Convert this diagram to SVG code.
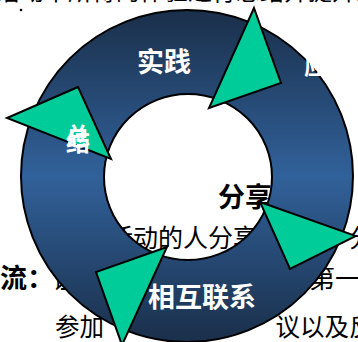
<svg xmlns="http://www.w3.org/2000/svg" width="358" height="342" viewBox="0 0 358 342">
<defs>
<linearGradient id="ringGrad" gradientUnits="userSpaceOnUse" x1="0" y1="10" x2="0" y2="342">
<stop offset="0" stop-color="#1a2f4a"/>
<stop offset="0.5" stop-color="#31619a"/>
<stop offset="1" stop-color="#1a2f4a"/>
</linearGradient>
<style>
.bg{font-family:"Noto Sans CJK SC","Noto Sans",sans-serif;fill:#000;}
.wt{font-family:"Noto Sans CJK SC","Noto Sans",sans-serif;fill:#fff;font-weight:bold;}
.tri{fill:#00cc99;stroke:#000;stroke-width:2;stroke-linejoin:miter;}
.ring{fill:url(#ringGrad);fill-rule:evenodd;stroke:#000;stroke-width:2;}
</style>
</defs>
<rect width="358" height="342" fill="#fff"/>
<g id="background-text">
<text class="bg" x="-4" y="-0.5" font-size="24">活动中所得的体验进行总结并提升为理性的一种认识</text>
<circle cx="21" cy="10" r="1.3" fill="#000"/>
<text class="bg" x="218" y="207" font-size="27" font-weight="bold">分享</text>
<text class="bg" x="108" y="247" font-size="25">活动的人分享</text>
<text class="bg" x="349" y="247" font-size="25">分</text>
<text class="bg" x="-27" y="288" font-size="27" font-weight="bold">交流：</text>
<text class="bg" x="52" y="288" font-size="26">让</text>
<text class="bg" x="309" y="288" font-size="26">第一</text>
<text class="bg" x="55" y="336" font-size="24.5">参加</text>
<text class="bg" x="275.5" y="336" font-size="24.5">议以及反</text>
</g>
<g id="ring">
<path class="ring" d="M21,176 A166,166 0 1,0 353,176 A166,166 0 1,0 21,176 Z M104,177 A84,83 0 1,0 272,177 A84,83 0 1,0 104,177 Z"/>
</g>
<g id="connectors">
<polygon id="arrow-top" class="tri" points="254,8 281,83 209,108"/>
<polygon id="arrow-left" class="tri" points="78,87 7,118 111,159"/>
<polygon id="arrow-right" class="tri" points="260,202 356,236 290,269"/>
<polygon id="arrow-bottom" class="tri" points="167,247 96,272 122,345"/>
</g>
<g id="node-shijian">
<text class="wt" x="164" y="72" font-size="27" text-anchor="middle">实践</text>
</g>
<g id="node-right">
<text class="wt" x="304" y="74" font-size="22">应用</text>
</g>
<g id="node-left">
<text class="wt" x="66" y="145" font-size="24">总</text>
<text class="wt" x="66" y="151" font-size="24">结</text>
</g>
<g id="node-xianghu">
<text class="wt" x="202" y="307" font-size="27" text-anchor="middle">相互联系</text>
</g>
</svg>
